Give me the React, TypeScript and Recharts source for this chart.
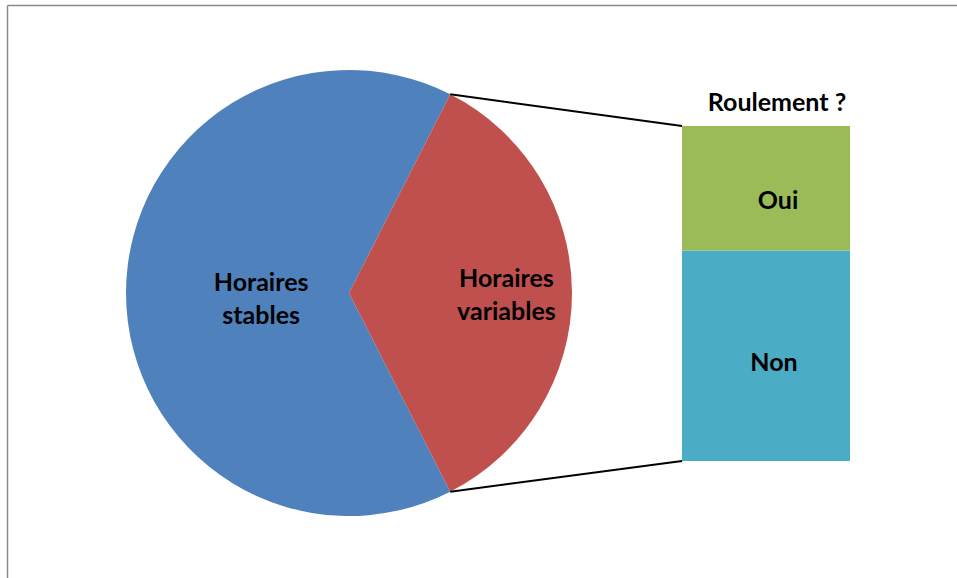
import React from 'react';
import { PieChart, Pie, Cell, BarChart, Bar, XAxis, YAxis, LabelList } from 'recharts';

const pieCategories = ['Horaires stables', 'Horaires variables'];
const pieValues = [65, 35];
const barTitle = 'Roulement ?';
const barCategories = ['Non', 'Oui'];
const barValues = [22, 13];

const W = 957;
const H = 578;
const PIE_CX = 349;
const PIE_CY = 293;
const PIE_R = 223;
const BAR_MARGIN = { top: 126, right: 107, bottom: 117, left: 682 };
const PIE_COLORS = ['#4F81BD', '#C0504D'];
const BAR_COLORS = ['#4BACC6', '#9BBB59'];
const FONT = 'Lato, "Open Sans", sans-serif';
const FONT_SIZE = 25;
const CAP_HALF = 9;
const LINE_H = 33;
const RAD = Math.PI / 180;

const pieData = pieCategories.map((name, i) => ({ name, value: pieValues[i] }));
const barRow: Record<string, any> = { name: pieCategories[1] };
barCategories.forEach((c, i) => {
  barRow[c] = barValues[i];
});

const total = pieValues.reduce((a, b) => a + b, 0);
const halfSplit = ((pieValues[1] / total) * 360) / 2;
const START = -halfSplit;
const END = -halfSplit - 360;

const pieLabelFactor = [0.394, 0.706];
const pieLabelDy = [5, 1];
const barLabelDx = [8, 12];
const barLabelDy = [6, 11.5];

const renderPieLabel = (props: any) => {
  const { cx, cy, midAngle, outerRadius, index, name } = props;
  const f = pieLabelFactor[index] ?? 0.5;
  const x = cx + f * outerRadius * Math.cos(-midAngle * RAD);
  const y = cy + f * outerRadius * Math.sin(-midAngle * RAD) + (pieLabelDy[index] ?? 0);
  const words = String(name).split(' ');
  return (
    <text
      x={x}
      y={y}
      textAnchor="middle"
      fontFamily={FONT}
      fontWeight="bold"
      fontSize={FONT_SIZE}
      fill="#000"
    >
      {words.map((w, i) => (
        <tspan key={i} x={x} y={y + (i - (words.length - 1) / 2) * LINE_H + CAP_HALF}>
          {w}
        </tspan>
      ))}
    </text>
  );
};

const makeBarLabel = (i: number) => (props: any) => {
  const { x, y, width, height } = props;
  const cx = Number(x) + Number(width) / 2 + barLabelDx[i];
  const cy = Number(y) + Number(height) / 2 + CAP_HALF + barLabelDy[i];
  return (
    <text
      x={cx}
      y={cy}
      textAnchor="middle"
      fontFamily={FONT}
      fontWeight="bold"
      fontSize={FONT_SIZE}
      fill="#000"
    >
      {barCategories[i]}
    </text>
  );
};

export default function App() {
  const a = halfSplit * RAD;
  const p1 = { x: PIE_CX + PIE_R * Math.cos(a), y: PIE_CY - PIE_R * Math.sin(a) };
  const p2 = { x: PIE_CX + PIE_R * Math.cos(a), y: PIE_CY + PIE_R * Math.sin(a) };
  const barLeft = BAR_MARGIN.left;
  const barTop = BAR_MARGIN.top;
  const barBottom = H - BAR_MARGIN.bottom;
  const barCenter = (BAR_MARGIN.left + (W - BAR_MARGIN.right)) / 2;

  return (
    <div style={{ position: 'absolute', left: 0, top: 0, width: W, height: H, background: '#fff' }}>
      <div style={{ position: 'absolute', left: 0, top: 0 }}>
        <PieChart width={W} height={H} margin={{ top: 0, right: 0, bottom: 0, left: 0 }}>
          <Pie
            data={pieData}
            dataKey="value"
            nameKey="name"
            cx={PIE_CX}
            cy={PIE_CY}
            outerRadius={PIE_R}
            startAngle={START}
            endAngle={END}
            stroke="none"
            isAnimationActive={false}
            label={renderPieLabel}
            labelLine={false}
          >
            {pieData.map((d, i) => (
              <Cell key={d.name} fill={PIE_COLORS[i]} />
            ))}
          </Pie>
        </PieChart>
      </div>
      <div style={{ position: 'absolute', left: 0, top: 0 }}>
        <BarChart width={W} height={H} data={[barRow]} margin={BAR_MARGIN} barCategoryGap={0} barGap={0}>
          <XAxis dataKey="name" hide />
          <YAxis hide domain={[0, 'dataMax']} />
          {barCategories.map((c, i) => (
            <Bar key={c} dataKey={c} stackId="a" fill={BAR_COLORS[i]} isAnimationActive={false}>
              <LabelList dataKey={c} content={makeBarLabel(i)} />
            </Bar>
          ))}
        </BarChart>
      </div>
      <svg
        width={W}
        height={H}
        style={{ position: 'absolute', left: 0, top: 0, pointerEvents: 'none' }}
      >
        <line x1={7.5} y1={5.5} x2={W} y2={5.5} stroke="#8a8a8a" strokeWidth={1.5} />
        <line x1={7.5} y1={5.5} x2={7.5} y2={H} stroke="#8a8a8a" strokeWidth={1.5} />
        <line x1={p1.x} y1={p1.y} x2={barLeft} y2={barTop} stroke="#000" strokeWidth={1.9} />
        <line x1={p2.x} y1={p2.y} x2={barLeft} y2={barBottom} stroke="#000" strokeWidth={1.9} />
        <text
          x={barCenter + 11}
          y={111}
          textAnchor="middle"
          fontFamily={FONT}
          fontWeight="bold"
          fontSize={FONT_SIZE}
          fill="#000"
        >
          {barTitle}
        </text>
      </svg>
    </div>
  );
}
